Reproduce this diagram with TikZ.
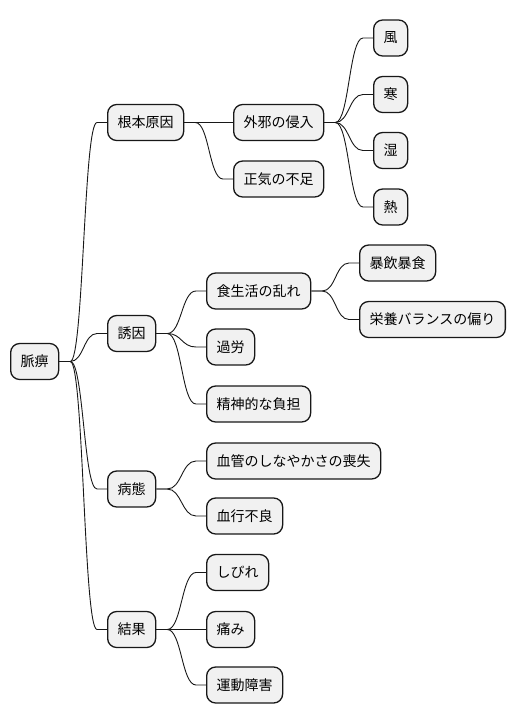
\documentclass[tikz,border=0pt]{standalone}
\usepackage{fontspec}
\setmainfont{Noto Sans CJK JP}
\usetikzlibrary{calc}
\definecolor{boxfill}{HTML}{F1F1F1}
\definecolor{ink}{HTML}{181818}
\tikzset{
  mmbox/.style={draw=ink, fill=boxfill, line width=1.3pt, rounded corners=9pt,
    minimum height=36pt, inner xsep=10pt, inner ysep=0pt, anchor=west,
    font=\fontsize{14pt}{16pt}\selectfont, text=black},
  mmline/.style={draw=ink, line width=0.9pt}
}
\newcommand\mmlink[2]{%
  \path (#1.east) ++(11,0) coordinate (mmp1);
  \path (#2.west) ++(-10,0) coordinate (mmp2);
  \path ($(mmp1)!0.5!(mmp2)$) coordinate (mmm);
  \draw[mmline] (#1.east) -- (mmp1) .. controls (mmm |- mmp1) and (mmm |- mmp2) .. (mmp2) -- (#2.west);
}
\begin{document}
\begin{tikzpicture}[x=1pt,y=-1pt]
\useasboundingbox (0,0) rectangle (516,724);
\node[mmbox] (root) at (10,361.5) {脈痹};
\node[mmbox] (a) at (107,122.5) {根本原因};
\node[mmbox] (a1) at (233,122.5) {外邪の侵入};
\node[mmbox] (a2) at (233,179) {正気の不足};
\node[mmbox] (a11) at (373,38) {風};
\node[mmbox] (a12) at (373,94.5) {寒};
\node[mmbox] (a13) at (373,150.5) {湿};
\node[mmbox] (a14) at (373,207) {熱};
\node[mmbox] (b) at (107,333.5) {誘因};
\node[mmbox] (b1) at (206,291) {食生活の乱れ};
\node[mmbox] (b11) at (359,263) {暴飲暴食};
\node[mmbox] (b12) at (359,319.5) {栄養バランスの偏り};
\node[mmbox] (b2) at (206,347) {過労};
\node[mmbox] (b3) at (206,404) {精神的な負担};
\node[mmbox] (c) at (107,489) {病態};
\node[mmbox] (c1) at (206,461) {血管のしなやかさの喪失};
\node[mmbox] (c2) at (206,516) {血行不良};
\node[mmbox] (d) at (107,629.5) {結果};
\node[mmbox] (d1) at (206,572.5) {しびれ};
\node[mmbox] (d2) at (206,629.5) {痛み};
\node[mmbox] (d3) at (206,685) {運動障害};
\mmlink{root}{a}
\mmlink{root}{b}
\mmlink{root}{c}
\mmlink{root}{d}
\mmlink{a}{a1}
\mmlink{a}{a2}
\mmlink{a1}{a11}
\mmlink{a1}{a12}
\mmlink{a1}{a13}
\mmlink{a1}{a14}
\mmlink{b}{b1}
\mmlink{b}{b2}
\mmlink{b}{b3}
\mmlink{b1}{b11}
\mmlink{b1}{b12}
\mmlink{c}{c1}
\mmlink{c}{c2}
\mmlink{d}{d1}
\mmlink{d}{d2}
\mmlink{d}{d3}
\end{tikzpicture}
\end{document}
